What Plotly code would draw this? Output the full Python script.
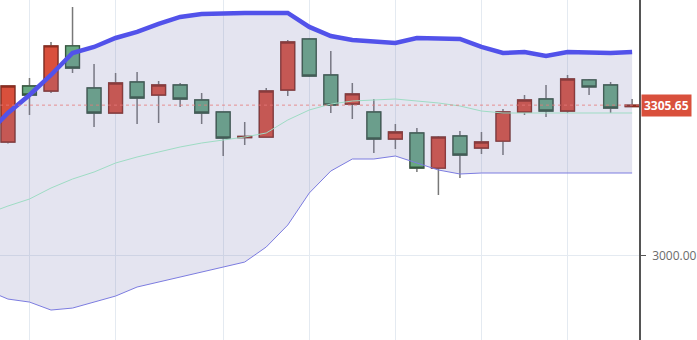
import plotly.graph_objects as go

# candle index positions
idx = list(range(30))
opens = [3230.8, 3344.5, 3334.3, 3425.7, 3340.4, 3289.7, 3352.6, 3326.2, 3346.5, 3316.1,
         3291.7, 3239.9, 3240.9, 3336.4, 3439.9, 3366.8, 3307.9, 3291.7, 3236.9, 3249.1,
         3178.0, 3243.0, 3218.6, 3232.8, 3291.7, 3318.1, 3293.7, 3356.7, 3346.5, 3302.9]
highs = [3346.0, 3360.7, 3433.8, 3504.9, 3389.2, 3370.9, 3372.9, 3354.6, 3350.6, 3330.3,
         3292.5, 3271.4, 3340.4, 3437.9, 3441.9, 3415.5, 3350.6, 3318.1, 3267.4, 3259.2,
         3243.0, 3253.2, 3251.1, 3297.8, 3326.2, 3346.5, 3366.8, 3358.7, 3352.6, 3318.1]
lows = [3228.0, 3285.6, 3330.3, 3370.9, 3261.3, 3288.0, 3267.4, 3269.4, 3301.9, 3267.4,
        3202.4, 3224.7, 3240.0, 3324.2, 3362.8, 3289.7, 3277.5, 3208.5, 3216.6, 3169.9,
        3123.2, 3157.7, 3206.5, 3204.4, 3285.6, 3281.6, 3289.7, 3326.2, 3289.7, 3301.9]
closes = [3344.5, 3326.2, 3425.7, 3381.0, 3289.7, 3350.6, 3320.1, 3346.5, 3318.1, 3289.7,
          3238.9, 3242.0, 3334.3, 3433.8, 3364.8, 3305.9, 3328.3, 3236.9, 3251.1, 3178.0,
          3240.9, 3204.4, 3230.8, 3291.7, 3316.1, 3293.7, 3358.7, 3342.5, 3299.8, 3305.65]

# Bollinger bands (index -1 .. 29)
band_idx = list(range(-1, 30))
upper = [3245.0, 3289.7, 3326.2, 3366.8, 3411.5, 3423.7, 3441.9, 3454.1, 3470.4, 3484.6,
         3490.6, 3492.7, 3492.7, 3492.7, 3492.7, 3464.3, 3446.0, 3437.9, 3435.8, 3431.8,
         3441.9, 3439.9, 3439.9, 3423.7, 3411.5, 3413.5, 3405.4, 3413.5, 3411.5, 3411.5, 3413.5]
middle = [3084.7, 3100.9, 3115.1, 3137.4, 3155.7, 3169.9, 3188.2, 3200.4, 3210.5, 3220.7,
          3228.8, 3234.9, 3240.9, 3249.1, 3275.5, 3295.8, 3307.9, 3314.0, 3316.1, 3318.1,
          3314.0, 3310.0, 3303.9, 3293.7, 3289.7, 3289.7, 3289.7, 3289.7, 3289.7, 3289.7, 3289.7]
lower = [2930.4, 2912.1, 2906.0, 2889.8, 2893.8, 2906.0, 2918.2, 2936.5, 2946.6, 2956.8,
         2966.9, 2977.1, 2987.2, 3017.7, 3062.3, 3127.3, 3171.9, 3196.3, 3196.3, 3202.4,
         3188.2, 3174.0, 3165.9, 3167.9, 3167.9, 3167.9, 3167.9, 3167.9, 3167.9, 3167.9, 3167.9]

last_price = 3305.65
grid_ticks = [1, 5, 10, 14, 18, 22, 26]

RED = "#d9503c"
RED_LINE = "#8e2c1f"
GREEN = "#68a882"
GREEN_LINE = "#35573f"

fig = go.Figure()

fig.add_trace(go.Scatter(x=band_idx, y=upper, mode="lines",
                         line=dict(color="#5252ea", width=4.5), hoverinfo="skip"))
fig.add_trace(go.Scatter(x=band_idx, y=lower, mode="lines", fill="tonexty",
                         fillcolor="rgba(120,120,180,0.2)",
                         line=dict(color="#7c7ce0", width=1), hoverinfo="skip"))
fig.add_trace(go.Scatter(x=band_idx, y=middle, mode="lines",
                         line=dict(color="#9edcc4", width=1), hoverinfo="skip"))

# wicks
fig.add_trace(go.Candlestick(
    x=idx, open=opens, high=highs, low=lows, close=closes,
    increasing=dict(line=dict(color="#787878", width=1.5), fillcolor="rgba(0,0,0,0)"),
    decreasing=dict(line=dict(color="#787878", width=1.5), fillcolor="rgba(0,0,0,0)"),
    whiskerwidth=0, hoverinfo="skip"))

# bodies
body_hi = [max(o, c) for o, c in zip(opens, closes)]
body_lo = [min(o, c) for o, c in zip(opens, closes)]
fig.add_trace(go.Candlestick(
    x=idx, open=opens, high=body_hi, low=body_lo, close=closes,
    increasing=dict(line=dict(color=RED_LINE, width=1.3), fillcolor=RED),
    decreasing=dict(line=dict(color=GREEN_LINE, width=1.3), fillcolor=GREEN),
    whiskerwidth=0))

fig.add_shape(type="line", xref="paper", x0=0, x1=1, yref="y", y0=last_price, y1=last_price,
              line=dict(color="rgba(230,120,120,0.8)", width=1, dash="dot"))

fig.add_annotation(xref="paper", x=1, yref="y", y=last_price, xanchor="left", yanchor="middle",
                   text=f"<b>{last_price:.2f}</b>", showarrow=False, xshift=2,
                   bgcolor=RED, borderpad=2,
                   font=dict(family="Open Sans", size=12, color="white"))

fig.update_layout(
    width=697, height=340,
    margin=dict(l=0, r=51, t=0, b=0),
    paper_bgcolor="white", plot_bgcolor="white",
    showlegend=False, boxgap=0.36, boxgroupgap=0,
    font=dict(family="Open Sans", size=12, color="#6b6b6b"),
    xaxis=dict(range=[-0.37, 29.32], tickvals=grid_ticks, showticklabels=False,
               showgrid=True, gridcolor="#e4eaf1", zeroline=False, showline=False,
               rangeslider=dict(visible=False), fixedrange=True),
    yaxis=dict(side="right", range=[2829, 3519], tickvals=[3000], tickformat=".2f",
               showgrid=True, gridcolor="#e4eaf1", zeroline=False,
               showline=True, linecolor="#555555", linewidth=1.5,
               ticks="outside", ticklen=5, tickcolor="#555555", ticklabelstandoff=4),
)

fig.write_html("out.html")
